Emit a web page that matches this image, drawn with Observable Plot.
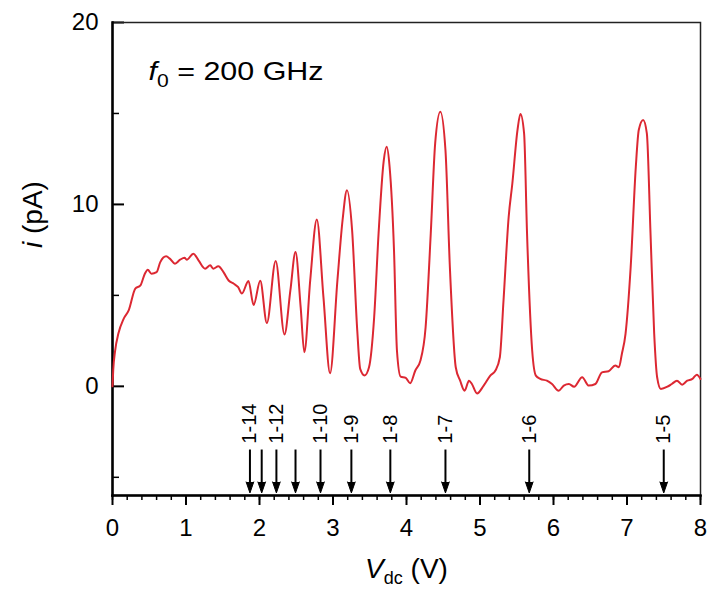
<!DOCTYPE html>
<html><head><meta charset="utf-8">
<script src="https://cdn.jsdelivr.net/npm/d3@7"></script>
<script src="https://cdn.jsdelivr.net/npm/@observablehq/plot@0.6"></script>
<style>body{margin:0;background:#fff}</style>
</head><body><div id="chart"></div>
<script>
// Measured photocurrent i (pA) vs. dc voltage V_dc (V)
const vdc = [0.00,0.01,0.036,0.08,0.15,0.22,0.31,0.38,0.44,0.48,0.53,0.60,0.65,0.73,0.78,0.85,0.92,0.98,1.01,1.10,1.17,1.26,1.33,1.37,1.44,1.51,1.58,1.65,1.71,1.76,1.85,1.92,2.01,2.10,2.22,2.34,2.42,2.49,2.56,2.61,2.69,2.78,2.87,2.96,3.06,3.13,3.19,3.26,3.33,3.37,3.43,3.49,3.56,3.62,3.69,3.73,3.77,3.83,3.87,3.92,3.99,4.05,4.12,4.19,4.26,4.33,4.39,4.46,4.53,4.59,4.67,4.73,4.79,4.85,4.89,4.96,5.05,5.14,5.21,5.27,5.32,5.39,5.44,5.51,5.55,5.60,5.64,5.71,5.76,5.82,5.91,5.98,6.07,6.14,6.21,6.28,6.39,6.48,6.57,6.66,6.75,6.84,6.89,6.93,6.98,7.05,7.12,7.16,7.22,7.27,7.32,7.37,7.41,7.46,7.55,7.61,7.68,7.75,7.82,7.89,7.95,8.00];
const current = [0.0,0.9,1.97,2.9,3.7,4.17,5.37,5.55,6.19,6.41,6.19,6.28,6.83,7.15,7.02,6.74,6.96,7.07,6.96,7.29,6.93,6.47,6.65,6.47,6.6,6.28,5.82,5.64,5.45,5.1,5.79,4.47,5.8,3.48,6.89,2.85,5.27,7.38,4.35,1.87,5.82,9.17,4.9,0.72,5.82,9.13,10.78,8.58,3.07,0.96,0.6,1.05,3.8,8.4,12.4,13.17,12.07,7.48,1.97,0.53,0.46,0.17,0.87,1.42,3.25,8.4,13.36,15.1,12.99,6.56,1.05,0.31,-0.24,0.31,0.13,-0.39,0.04,0.59,0.87,1.6,4.72,9.31,11.15,14.09,14.97,13.9,8.4,1.97,0.59,0.41,0.31,0.13,-0.24,0.04,0.13,-0.02,0.5,0.04,0.13,0.77,0.83,1.14,1.05,1.78,2.89,6.56,12.07,14.09,14.64,13.9,8.4,2.89,0.5,-0.14,-0.02,0.13,0.31,0.09,0.31,0.41,0.64,0.41];

const xTicks = [0,1,2,3,4,5,6,7,8];
const xMinorTicks = d3.range(0, 41).map(k => k / 5);
const yTicks = [0,10,20];
const yMinorTicks = [-5,5,15];

// Transition markers (arrows)
const transitionV = [1.87,2.03,2.23,2.49,2.83,3.25,3.78,4.53,5.67,7.50];
const transitionNames = ["1-14","1-13","1-12","1-11","1-10","1-9","1-8","1-7","1-6","1-5"];
const transitionShown = [true,false,true,false,true,true,true,true,true,true];
const arrowTop = -3.5, arrowTip = -5.86, labelBase = -3.15;

const annotation = {x: 0.49, y: 16.85, text: "f0 = 200 GHz"};
const yTitle = "i (pA)";
const xTitle = "Vdc (V)";

const rows = vdc.map((v, i) => ({v, i: current[i]}));
const arrows = transitionV.map((v, k) => ({v, name: transitionNames[k], shown: transitionShown[k]}));

const svg = Plot.plot({
  width: 707, height: 591,
  marginLeft: 112, marginRight: 7, marginTop: 22, marginBottom: 96,
  style: {fontFamily: "'Liberation Sans', Arial, sans-serif", fontSize: "24px", background: "#fff", color: "#000"},
  x: {domain: [0, 8], axis: null},
  y: {domain: [-6, 20], axis: null},
  marks: [
    Plot.axisX({ticks: xMinorTicks, tickSize: 5, tickFormat: () => "", label: null, strokeWidth: 1.5}),
    Plot.axisX({ticks: xTicks, tickSize: 10, tickPadding: 13, label: null, strokeWidth: 2, fontSize: 24}),
    Plot.axisY({ticks: yMinorTicks, tickSize: -7, tickFormat: () => "", label: null, strokeWidth: 1.5}),
    Plot.axisY({ticks: yTicks, tickSize: -12, tickPadding: 26, label: null, strokeWidth: 2, fontSize: 24}),
    Plot.frame({stroke: "#222", strokeWidth: 1.5}),
    Plot.frame({anchor: "left", stroke: "#000", strokeWidth: 2.5}),
    Plot.frame({anchor: "bottom", stroke: "#000", strokeWidth: 2.5}),
    Plot.line(rows, {x: "v", y: "i", stroke: "#dc2832", strokeWidth: 2, curve: "monotone-x"}),
    Plot.ruleX(arrows, {x: "v", y1: arrowTop, y2: arrowTip + 0.4, stroke: "#000", strokeWidth: 2}),
    Plot.vector(arrows, {x: "v", y: arrowTip, rotate: 180, length: 11, r: 3.8, anchor: "end", shape: "spike", fill: "#000", stroke: "#000", strokeWidth: 1}),
    Plot.text(arrows.filter(d => d.shown), {x: "v", y: labelBase, text: "name", rotate: -90, textAnchor: "start", lineAnchor: "middle", fontSize: 20, fill: "#000"}),
    Plot.text([annotation], {x: "x", y: "y", text: "text", textAnchor: "start", lineAnchor: "bottom", fontSize: 26, fill: "#000"}),
    Plot.text([yTitle], {frameAnchor: "left", rotate: -90, dx: -79, dy: -11, fontSize: 28, fill: "#000"}),
    Plot.text([xTitle], {frameAnchor: "bottom", dy: 82, lineAnchor: "bottom", fontSize: 28, fill: "#000"})
  ]
});
document.getElementById("chart").append(svg);

const NS = "http://www.w3.org/2000/svg";
function rich(content, parts) {
  const t = Array.from(svg.querySelectorAll("text")).find(e => e.textContent === content);
  if (!t) return null;
  t.textContent = "";
  for (const p of parts) {
    const s = document.createElementNS(NS, "tspan");
    s.textContent = p.t;
    if (p.italic) s.setAttribute("font-style", "italic");
    if (p.size) s.setAttribute("font-size", p.size);
    if (p.dy) s.setAttribute("dy", p.dy);
    t.appendChild(s);
  }
  return t;
}
const ann = rich(annotation.text, [{t: "f", italic: true}, {t: "0", size: 18, dy: 7}, {t: " = 200 GHz", dy: -7}]);
if (ann) { ann.setAttribute("textLength", 175); ann.setAttribute("lengthAdjust", "spacingAndGlyphs"); }
rich(yTitle, [{t: "i", italic: true}, {t: " (pA)"}]);
rich(xTitle, [{t: "V", italic: true}, {t: "dc", size: 18, dy: 6}, {t: " (V)", dy: -6}]);
</script>
</body></html>
